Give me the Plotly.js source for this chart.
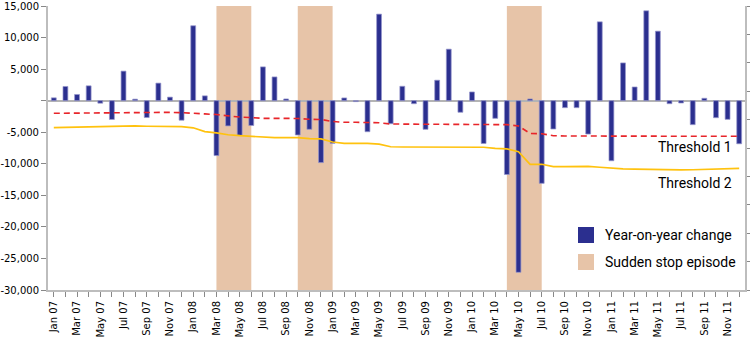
<!DOCTYPE html>
<html>
<head>
<meta charset="utf-8">
<script src="https://cdn.plot.ly/plotly-3.0.1.min.js"></script>
<style>
  html, body { margin: 0; padding: 0; background: #fff; }
  #chart { width: 750px; height: 337px; }
</style>
</head>
<body>
<div id="chart"></div>
<script>
// ---- Data ----
var months = [
  'Jan 07','Feb 07','Mar 07','Apr 07','May 07','Jun 07','Jul 07','Aug 07','Sep 07','Oct 07','Nov 07','Dec 07',
  'Jan 08','Feb 08','Mar 08','Apr 08','May 08','Jun 08','Jul 08','Aug 08','Sep 08','Oct 08','Nov 08','Dec 08',
  'Jan 09','Feb 09','Mar 09','Apr 09','May 09','Jun 09','Jul 09','Aug 09','Sep 09','Oct 09','Nov 09','Dec 09',
  'Jan 10','Feb 10','Mar 10','Apr 10','May 10','Jun 10','Jul 10','Aug 10','Sep 10','Oct 10','Nov 10','Dec 10',
  'Jan 11','Feb 11','Mar 11','Apr 11','May 11','Jun 11','Jul 11','Aug 11','Sep 11','Oct 11','Nov 11','Dec 11'
];

var yoyChange = [
  450, 2250, 980, 2350, -400, -2980, 4680, 240, -2670, 2780, 560, -3100,
  11870, 760, -8700, -4000, -5480, -3940, 5350, 3760, 270, -5440, -4540, -9810,
  -6760, 430, -150, -4920, 13710, -3650, 2280, -480, -4540, 3240, 8160, -1840,
  1380, -6790, -2800, -11700, -27200, 270, -13100, -4490, -1110, -1110, -5290, 12490,
  -9520, 5980, 2170, 14240, 11010, -480, -370, -3800, 380, -2700, -2960, -6830
];

var threshold1 = [
  -2000, -1980, -1950, -1920, -1900, -1850, -1850, -1850, -1850, -1850, -1850, -1900,
  -2050, -2100, -2200, -2450, -2600, -2680, -2800, -2800, -2800, -2820, -2950, -2980,
  -3300, -3430, -3430, -3430, -3500, -3700, -3700, -3720, -3700, -3700, -3700, -3700,
  -3700, -3700, -3700, -3800, -4000, -5200, -5250, -5550, -5600, -5600, -5620, -5650,
  -5680, -5700, -5700, -5700, -5700, -5700, -5700, -5700, -5700, -5680, -5660, -5650
];

var threshold2 = [
  -4280, -4230, -4180, -4130, -4100, -4020, -4000, -4000, -4050, -4050, -4030, -4100,
  -4300, -4900, -5100, -5400, -5550, -5650, -5850, -5860, -5860, -5870, -6000, -6050,
  -6550, -6760, -6760, -6760, -6900, -7300, -7340, -7340, -7340, -7340, -7330, -7330,
  -7350, -7380, -7550, -7650, -8100, -10080, -10080, -10460, -10450, -10430, -10420, -10550,
  -10700, -10820, -10850, -10900, -10980, -11000, -10980, -10950, -10900, -10850, -10780, -10720
];

var episodeStart = ['Mar 08', 'Oct 08', 'Apr 10'];
var episodeEnd   = ['Jun 08', 'Jan 09', 'Jul 10'];

var yTickVals = [15000, 10000, 5000, 0, -5000, -10000, -15000, -20000, -25000, -30000];
var yTickText = ['15,000', '10,000', '5,000', '', '-5,000', '-10,000', '-15,000', '-20,000', '-25,000', '-30,000'];

var seriesNames = ['Year-on-year change', 'Sudden stop episode'];
var lineLabels = ['Threshold 1', 'Threshold 2'];

// ---- Styles ----
var BAR_COLOR = '#2B2F8F';
var SHADE_COLOR = '#E7C4A8';
var RED = '#E8252A';
var YELLOW = '#FFC20E';
var AXIS_GRAY = '#BDBDBD';

var W = 750, H = 337;
var M = {l: 48, r: 5, t: 6, b: 47};
var PW = W - M.l - M.r, PH = H - M.t - M.b;
function px2paperX(px) { return (px - M.l) / PW; }
function px2paperY(py) { return (H - M.b - py) / PH; }

var idx = months.map(function (m, i) { return i; });
var tickText = months.map(function (m, i) { return i % 2 === 0 ? m : ''; });

var traces = [
  {
    type: 'bar',
    x: idx,
    y: yoyChange,
    width: 0.42,
    marker: {color: BAR_COLOR, line: {color: 'rgba(150,150,205,0.9)', width: 0.8}},
    name: seriesNames[0],
    showlegend: false,
    hoverinfo: 'skip'
  },
  {
    type: 'scatter',
    mode: 'lines',
    x: idx,
    y: threshold1,
    line: {color: RED, width: 1.6, dash: '6px,4px'},
    name: lineLabels[0],
    showlegend: false,
    hoverinfo: 'skip'
  },
  {
    type: 'scatter',
    mode: 'lines',
    x: idx,
    y: threshold2,
    line: {color: YELLOW, width: 1.7},
    name: lineLabels[1],
    showlegend: false,
    hoverinfo: 'skip'
  },
  {
    type: 'scatter',
    x: [],
    y: [],
    yaxis: 'y2',
    showlegend: false,
    hoverinfo: 'skip'
  }
];

var shapes = episodeStart.map(function (s, k) {
  return {
    type: 'rect', layer: 'below',
    xref: 'x', yref: 'paper',
    x0: months.indexOf(s), x1: months.indexOf(episodeEnd[k]),
    y0: 0, y1: 1,
    fillcolor: SHADE_COLOR, line: {width: 0}
  };
});

// custom legend swatches
shapes.push({
  type: 'rect', xref: 'paper', yref: 'paper', layer: 'above',
  x0: px2paperX(578), x1: px2paperX(594), y0: px2paperY(243), y1: px2paperY(227),
  fillcolor: BAR_COLOR, line: {width: 0}
});
shapes.push({
  type: 'rect', xref: 'paper', yref: 'paper', layer: 'above',
  x0: px2paperX(578), x1: px2paperX(594), y0: px2paperY(270), y1: px2paperY(254),
  fillcolor: SHADE_COLOR, line: {width: 0}
});

var labelFont = {family: 'Roboto, "Open Sans", sans-serif', size: 14, color: '#000'};

var annotations = [
  {xref: 'paper', yref: 'paper', x: px2paperX(603), y: px2paperY(235), text: seriesNames[0],
   showarrow: false, xanchor: 'left', yanchor: 'middle', font: labelFont},
  {xref: 'paper', yref: 'paper', x: px2paperX(603), y: px2paperY(262), text: seriesNames[1],
   showarrow: false, xanchor: 'left', yanchor: 'middle', font: labelFont},
  {xref: 'paper', yref: 'paper', x: px2paperX(656), y: px2paperY(147), text: lineLabels[0],
   showarrow: false, xanchor: 'left', yanchor: 'middle', font: labelFont},
  {xref: 'paper', yref: 'paper', x: px2paperX(656), y: px2paperY(183), text: lineLabels[1],
   showarrow: false, xanchor: 'left', yanchor: 'middle', font: labelFont}
];

var tickFont = {family: '"DejaVu Sans", Verdana, sans-serif', size: 10, color: '#000'};

var layout = {
  width: W, height: H,
  margin: M,
  paper_bgcolor: '#fff',
  plot_bgcolor: 'rgba(0,0,0,0)',
  showlegend: false,
  hovermode: false,
  bargap: 0,
  xaxis: {
    type: 'linear',
    range: [-0.5, months.length - 0.5],
    tickmode: 'array',
    tickvals: idx,
    ticktext: tickText,
    tickangle: -90,
    ticks: 'outside',
    ticklen: 5,
    tickwidth: 1,
    tickcolor: '#888',
    tickfont: tickFont,
    showgrid: false,
    zeroline: false,
    showline: true,
    linecolor: AXIS_GRAY,
    linewidth: 2,
    fixedrange: true
  },
  yaxis: {
    range: [-30000, 15000],
    tickmode: 'array',
    tickvals: yTickVals,
    ticktext: yTickText,
    ticks: 'outside',
    ticklen: 5,
    tickwidth: 1,
    tickcolor: '#888',
    tickfont: tickFont,
    showgrid: false,
    zeroline: true,
    zerolinecolor: '#B4B4B4',
    zerolinewidth: 2,
    showline: true,
    linecolor: AXIS_GRAY,
    linewidth: 2,
    fixedrange: true
  },
  yaxis2: {
    overlaying: 'y',
    side: 'right',
    range: [0, 10],
    tickmode: 'linear',
    tick0: 0,
    dtick: 1,
    ticks: 'outside',
    ticklen: 5,
    tickwidth: 1,
    tickcolor: '#888',
    showticklabels: false,
    showgrid: false,
    zeroline: false,
    showline: true,
    linecolor: AXIS_GRAY,
    linewidth: 2,
    fixedrange: true
  },
  shapes: shapes,
  annotations: annotations
};

Plotly.newPlot('chart', traces, layout, {displayModeBar: false, staticPlot: true});
</script>
</body>
</html>
